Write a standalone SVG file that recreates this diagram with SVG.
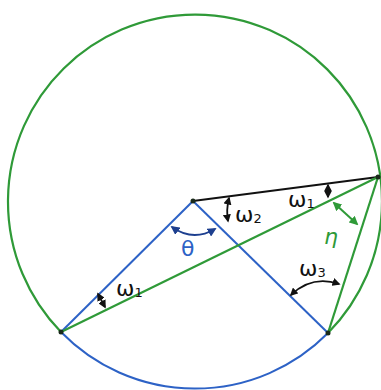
<svg xmlns="http://www.w3.org/2000/svg" width="381" height="390" viewBox="0 0 381 390">
<style>
.g{stroke:#2f9a38;fill:none;stroke-width:2.2}
.b{stroke:#2d62c6;fill:none;stroke-width:2}
.k{stroke:#111;fill:none;stroke-width:2}
.ak{stroke:#111;fill:none;stroke-width:1.8;marker-start:url(#mk);marker-end:url(#mk)}
.at{stroke:#1d3f8f;fill:none;stroke-width:2;marker-start:url(#mb);marker-end:url(#mb)}
.ag{stroke:#2f9a38;fill:none;stroke-width:2;marker-start:url(#mg);marker-end:url(#mg)}
text{font-family:"DejaVu Sans",sans-serif;font-size:22px}
.tk{fill:#111}
.tb{fill:#2d62c6}
.tg{fill:#2f9a38;font-style:italic}
.sub{font-size:13px}
.dot{fill:#1a2a1a}
</style>
<defs>
<marker id="mk" viewBox="0 0 10 10" refX="8" refY="5" markerWidth="4.5" markerHeight="4.5" orient="auto-start-reverse"><path d="M0,0 L10,5 L0,10 z" fill="#111"/></marker>
<marker id="mb" viewBox="0 0 10 10" refX="8" refY="5" markerWidth="4.5" markerHeight="4.5" orient="auto-start-reverse"><path d="M0,0 L10,5 L0,10 z" fill="#1d3f8f"/></marker>
<marker id="mg" viewBox="0 0 10 10" refX="8" refY="5" markerWidth="4.5" markerHeight="4.5" orient="auto-start-reverse"><path d="M0,0 L10,5 L0,10 z" fill="#2f9a38"/></marker>
</defs>
<rect width="381" height="390" fill="#fff"/>
<g id="connectors">
<path id="arc-green" class="g" d="M61,332 A187,187 0 1 1 328,333"/>
<path id="arc-blue" class="b" d="M61,332 A187,187 0 0 0 328,333"/>
<line class="k" x1="193" y1="201" x2="378" y2="177"/>
<line class="b" x1="193" y1="201" x2="61" y2="332"/>
<line class="b" x1="193" y1="201" x2="328" y2="333"/>
<line class="g" x1="61" y1="332" x2="378" y2="177"/>
<line class="g" x1="328" y1="333" x2="378" y2="177"/>
<path class="ak" d="M229,198 Q226,210 228,221"/>
<path class="at" d="M172,227 Q193,242 215,229"/>
<path class="ak" d="M328,185 L328,197"/>
<path class="ag" d="M334,203 L357,224"/>
<path class="ak" d="M98,294 L105,307"/>
<path class="ak" d="M291,295 Q312,275 339,284"/>
</g>
<g id="O"><circle class="dot" cx="193" cy="201" r="2.5"/></g>
<g id="P"><circle class="dot" cx="378" cy="177" r="2.5"/></g>
<g id="A"><circle class="dot" cx="61" cy="332" r="2.5"/></g>
<g id="B"><circle class="dot" cx="328" cy="333" r="2.5"/></g>
<g id="labels">
<text class="tk" x="288" y="207">ω<tspan class="sub" dy="1">1</tspan></text>
<text class="tk" x="235" y="222">ω<tspan class="sub" dy="1">2</tspan></text>
<text class="tb" x="181" y="256">θ</text>
<text class="tg" x="324" y="244">η</text>
<text class="tk" x="299" y="276">ω<tspan class="sub" dy="1">3</tspan></text>
<text class="tk" x="116" y="296">ω<tspan class="sub" dy="1">1</tspan></text>
</g>
</svg>
